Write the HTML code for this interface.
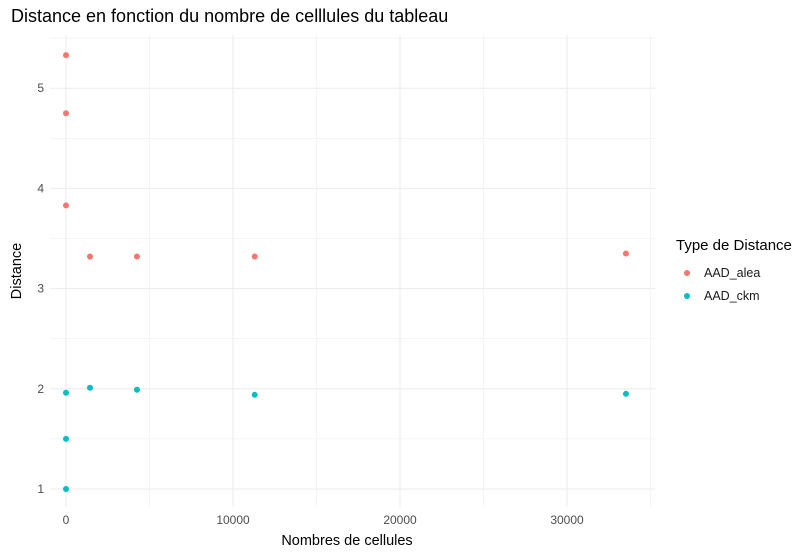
<!DOCTYPE html>
<html><head><meta charset="utf-8"><style>
body{margin:0;background:#fff;font-family:"Liberation Sans",Arial,sans-serif}
</style></head><body>
<svg width="806" height="555" xmlns="http://www.w3.org/2000/svg" id="svg">
<rect width="806" height="555" fill="#fff"/>
<text x="11" y="22" font-size="18" fill="#000">Distance en fonction du nombre de celllules du tableau</text>
<g id="grid"></g><g id="pts"></g><g id="ticks"></g>
<text x="347" y="545" font-size="14.5" text-anchor="middle">Nombres de cellules</text>
<text transform="translate(21,271) rotate(-90)" font-size="14.5" text-anchor="middle">Distance</text>
<g>
<text x="676" y="250" font-size="15">Type de Distance</text>
<circle cx="687" cy="273" r="3" fill="#F8766D"/><text x="704" y="277" font-size="12.5" fill="#1a1a1a">AAD_alea</text>
<circle cx="687" cy="296" r="3" fill="#00BFC4"/><text x="704" y="300" font-size="12.5" fill="#1a1a1a">AAD_ckm</text>
</g>
</svg>
<script>
const aleaX=[0,0,0,1437,4250,11300,33530];
const aleaY=[5.33,4.75,3.83,3.32,3.32,3.32,3.35];
const ckmX=[0,0,0,1437,4250,11300,33530];
const ckmY=[1.96,1.5,1.0,2.01,1.99,1.94,1.95];
const xTicks=[0,10000,20000,30000];
const xTickLabels=["0","10000","20000","30000"];
const yTicks=[1,2,3,4,5];
const xs=v=>66+v*0.0167, ys=v=>489-(v-1)*100.2;
const NS="http://www.w3.org/2000/svg";
function mk(t,a,p){const e=document.createElementNS(NS,t);for(const k in a)e.setAttribute(k,a[k]);document.getElementById(p).appendChild(e);return e;}
const L=50,R=655,T=35,B=507;
for(let v=-5000;v<=35000;v+=5000){const x=xs(v);if(x<L||x>R)continue;const g=mk('line',{x1:x,x2:x,y1:T,y2:B,stroke:'#ebebeb','stroke-width':v%10000===0?1:0.5},'grid');}
for(let v=1;v<=5.5;v+=0.5){const y=ys(v);const g=mk('line',{x1:L,x2:R,y1:y,y2:y,stroke:'#ebebeb','stroke-width':v%1===0?1:0.5},'grid');}
xTicks.forEach((v,i)=>{const t=mk('text',{x:xs(v),y:524,'font-size':12,fill:'#4d4d4d','text-anchor':'middle'},'ticks');t.textContent=xTickLabels[i];});
yTicks.forEach(v=>{const t=mk('text',{x:44,y:ys(v)+4,'font-size':12,fill:'#4d4d4d','text-anchor':'end'},'ticks');t.textContent=v;});
aleaX.forEach((v,i)=>{const c=mk('circle',{cx:xs(v),cy:ys(aleaY[i]),r:3,fill:'#F8766D'},'pts');});
ckmX.forEach((v,i)=>{const c=mk('circle',{cx:xs(v),cy:ys(ckmY[i]),r:3,fill:'#00BFC4'},'pts');});
</script>
</body></html>
